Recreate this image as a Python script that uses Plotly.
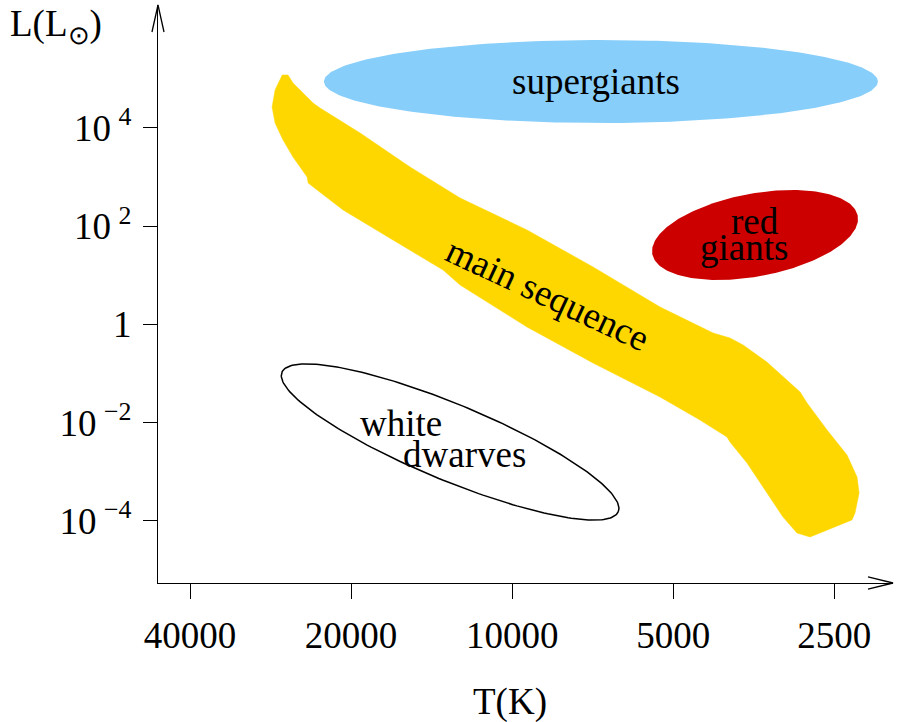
import numpy as np
import plotly.graph_objects as go

# ---- Data (temperature in K, luminosity in solar units) ----
ms_T = [26900, 26240, 25680, 24600, 23560, 22860, 19240, 15520, 12510, 9380, 7060, 5290,
        4455, 4210, 3915, 3700, 3340, 3024, 2895, 2810, 2578, 2366, 2266, 2246, 2286, 2316,
        2623, 2774, 2934, 3116, 3396, 3638, 3915, 3966, 4455, 5290, 7060, 9380, 12510,
        13460, 16700, 20700, 23150, 24060, 24170, 25680, 26810, 27740, 28100, 27740, 26900]
ms_L = [1.2e5, 1.2e5, 8.26e4, 5.16e4, 3.23e4, 2.55e4, 7910, 1610, 375, 83.8, 14.8, 2.26,
        0.885, 0.668, 0.528, 0.380, 0.171, 0.0641, 0.0420, 0.0251, 7.06e-3, 2.19e-3, 7.8e-4,
        3.68e-4, 1.44e-4, 1.04e-4, 5.92e-5, 4.68e-5, 5.65e-5, 1.19e-4, 4.88e-4, 1.50e-3,
        4.03e-3, 5.09e-3, 0.0113, 0.0332, 0.164, 0.885, 6.34, 12.8, 52.4, 214, 546, 759,
        1005, 2560, 5700, 1.264e4, 2.68e4, 5.94e4, 1.2e5]

# ellipse regions: centre (T, L) and two conjugate half-axes in decades (dlogT, dlogL)
region_names = ["supergiants", "red giants", "white dwarves"]
region_T = [6823, 3515, 13060]
region_L = [8.85e4, 66.2, 4.03e-3]
region_u = [(-0.5178, 0.0), (-0.1920, 0.391), (-0.3144, -1.4196)]
region_v = [(0.0, 0.845), (-0.0142, -0.829), (0.0273, -0.7149)]

# text labels
label_text = ["supergiants", "main sequence", "red", "giants", "white", "dwarves"]
label_T = [6970, 8570, 3515, 3686, 16130, 12250]
label_L = [8.65e4, 3.97, 122, 36.0, 9.8e-3, 2.19e-3]
label_angle = [0, 25, 0, 0, 0, 0]

x_ticks = [40000, 20000, 10000, 5000, 2500]
y_ticks = [1e4, 1e2, 1, 1e-2, 1e-4]
y_ticktext = ["10\u2009<sup>4</sup>", "10\u2009<sup>2</sup>", "1",
              "10\u2009<sup>\u22122</sup>", "10\u2009<sup>\u22124</sup>"]

FONT = "Liberation Serif, Times New Roman, serif"
FS = 37

fig = go.Figure()


def ellipse(Tc, Lc, u, v):
    t = np.linspace(0, 2 * np.pi, 240)
    lt = np.log10(Tc) + u[0] * np.cos(t) + v[0] * np.sin(t)
    ll = np.log10(Lc) + u[1] * np.cos(t) + v[1] * np.sin(t)
    return 10 ** lt, 10 ** ll


# supergiants
x, y = ellipse(region_T[0], region_L[0], region_u[0], region_v[0])
fig.add_trace(go.Scatter(x=x, y=y, mode="lines", fill="toself", fillcolor="#87CEFA",
                         line=dict(width=0, color="#87CEFA"), hoverinfo="skip"))
# main sequence
fig.add_trace(go.Scatter(x=ms_T, y=ms_L, mode="lines", fill="toself", fillcolor="#FFD700",
                         line=dict(width=0.5, color="#FFD700"), hoverinfo="skip"))
# red giants
x, y = ellipse(region_T[1], region_L[1], region_u[1], region_v[1])
fig.add_trace(go.Scatter(x=x, y=y, mode="lines", fill="toself", fillcolor="#CD0000",
                         line=dict(width=0, color="#CD0000"), hoverinfo="skip"))
# white dwarves
x, y = ellipse(region_T[2], region_L[2], region_u[2], region_v[2])
fig.add_trace(go.Scatter(x=x, y=y, mode="lines", line=dict(width=1.5, color="black"),
                         hoverinfo="skip"))

for txt, T, L, ang in zip(label_text, label_T, label_L, label_angle):
    fig.add_annotation(x=np.log10(T), y=np.log10(L), xref="x", yref="y", text=txt,
                       showarrow=False, textangle=ang,
                       font=dict(family=FONT, size=FS, color="black"))

# axis titles
fig.add_annotation(x=-0.139, y=0.962, xref="paper", yref="paper", text="L(L<sub>\u2299</sub>)",
                   showarrow=False, xanchor="center", yanchor="middle",
                   font=dict(family=FONT, size=FS, color="black"))
fig.add_annotation(x=0.479, y=-0.206, xref="paper", yref="paper", text="T(K)",
                   showarrow=False, xanchor="center", yanchor="middle",
                   font=dict(family=FONT, size=FS, color="black"))

# arrow heads on axes
fig.add_shape(type="path", xref="paper", yref="paper",
              path="M -0.0082,0.9533 L 0,1 L 0.0082,0.9533",
              line=dict(color="black", width=1.3))
fig.add_shape(type="path", xref="paper", yref="paper",
              path="M 0.966,0.0104 L 1,0 L 0.966,-0.0104",
              line=dict(color="black", width=1.3))

fig.update_xaxes(type="log", range=[4.662, 3.288], tickmode="array", tickvals=x_ticks,
                 ticktext=[str(v) for v in x_ticks], ticks="outside", ticklen=15,
                 tickwidth=1.3, tickcolor="black", showline=True, linecolor="black",
                 linewidth=1.3, showgrid=False, zeroline=False, ticklabelstandoff=4,
                 tickfont=dict(family=FONT, size=FS, color="black"))
fig.update_yaxes(type="log", range=[-5.267, 6.505], tickmode="array", tickvals=y_ticks,
                 ticktext=y_ticktext, ticks="outside", ticklen=14, tickwidth=1.3,
                 tickcolor="black", showline=True, linecolor="black", linewidth=1.3,
                 showgrid=False, zeroline=False, ticklabelstandoff=4,
                 tickfont=dict(family=FONT, size=FS, color="black"))

fig.update_layout(width=903, height=722, margin=dict(l=158, r=10, t=5, b=139),
                  plot_bgcolor="white", paper_bgcolor="white", showlegend=False)

fig.write_html("out.html")
